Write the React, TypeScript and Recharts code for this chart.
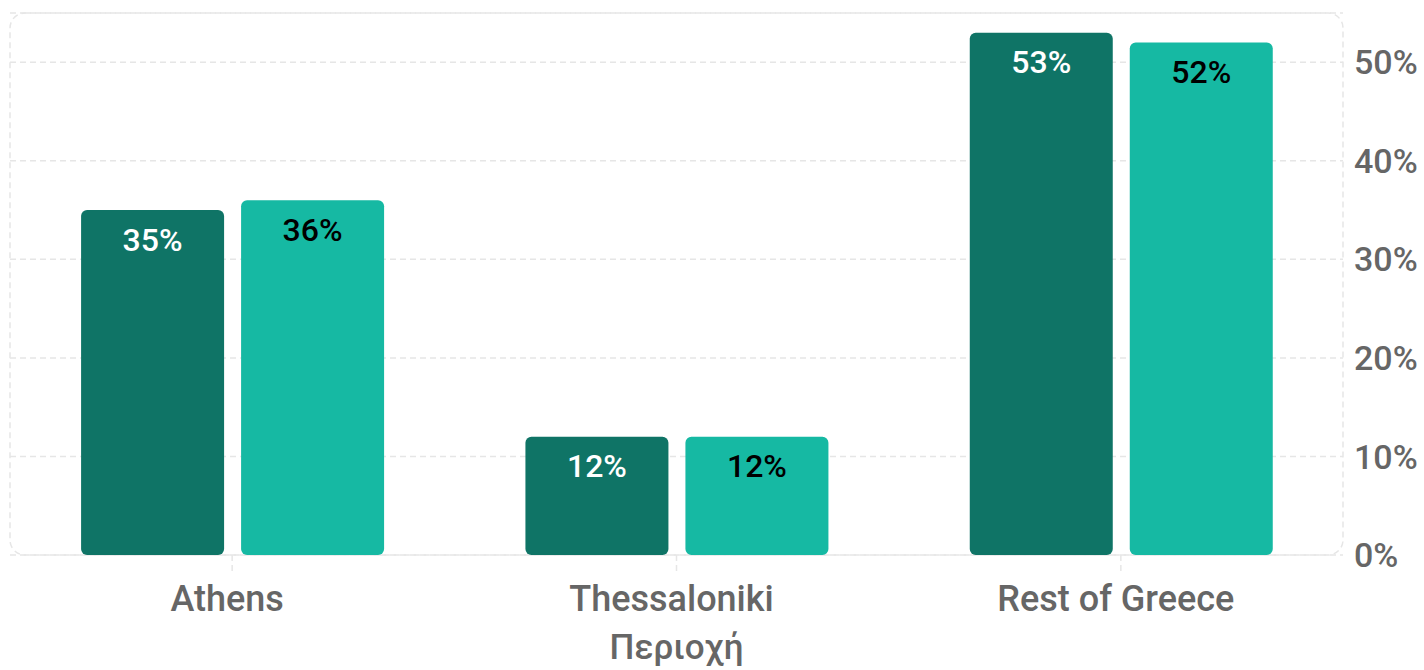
import { BarChart, Bar, XAxis, YAxis, CartesianGrid, ReferenceArea, LabelList } from "recharts";

const regions = ["Athens", "Thessaloniki", "Rest of Greece"];
const previousShare = [35, 12, 53];
const currentShare = [36, 12, 52];
const yTicks = [0, 10, 20, 30, 40, 50];

const data = regions.map((region, i) => ({
  region,
  previous: previousShare[i],
  current: currentShare[i],
}));

const TICK_COLOR = "#666666";
const GRID_COLOR = "#e6e6e6";

function PlotBorder(props: any) {
  const { x, y, width, height } = props;
  return (
    <rect
      x={x}
      y={y}
      width={width}
      height={height}
      rx={15}
      ry={15}
      fill="none"
      stroke={GRID_COLOR}
      strokeWidth={1.5}
      strokeDasharray="6 4"
    />
  );
}

export default function App() {
  return (
    <div style={{ position: "absolute", left: 0, top: 0, fontFamily: "Roboto" }}>
      <BarChart
        width={1424}
        height={670}
        data={data}
        margin={{ top: 13, right: 0, bottom: 0, left: 10 }}
        barCategoryGap="16%"
        barGap={17}
      >
        <CartesianGrid vertical={false} stroke={GRID_COLOR} strokeWidth={1.5} strokeDasharray="6 4" />
        <ReferenceArea y1={0} y2={55} shape={<PlotBorder />} ifOverflow="visible" />
        <XAxis
          dataKey="region"
          height={115}
          axisLine={false}
          tickSize={16}
          tickMargin={14}
          tickLine={{ stroke: GRID_COLOR, strokeWidth: 1.5, strokeDasharray: "6 4" }}
          tick={{ fill: TICK_COLOR, fontSize: 36, fontWeight: 500, fontFamily: "Roboto", dx: -5 }}
          label={{
            value: "Περιοχή",
            position: "insideBottom",
            offset: 11,
            fill: TICK_COLOR,
            fontSize: 35,
            fontWeight: 500,
            fontFamily: "Roboto",
          }}
        />
        <YAxis
          orientation="right"
          width={81}
          domain={[0, 55]}
          ticks={yTicks}
          axisLine={false}
          tickLine={false}
          tickSize={0}
          tickMargin={11}
          tickFormatter={(v) => `${v}%`}
          tick={{ fill: TICK_COLOR, fontSize: 34, fontWeight: 500, fontFamily: "Roboto" }}
        />
        <Bar dataKey="previous" fill="#0f7466" radius={6} isAnimationActive={false}>
          <LabelList
            dataKey="previous"
            position="insideTop"
            offset={18}
            formatter={(v: any) => `${v}%`}
            fill="#ffffff"
            fontSize={32}
            fontWeight={500}
            fontFamily="Roboto"
          />
        </Bar>
        <Bar dataKey="current" fill="#16b9a3" radius={6} isAnimationActive={false}>
          <LabelList
            dataKey="current"
            position="insideTop"
            offset={18}
            formatter={(v: any) => `${v}%`}
            fill="#000000"
            fontSize={32}
            fontWeight={500}
            fontFamily="Roboto"
          />
        </Bar>
      </BarChart>
    </div>
  );
}
